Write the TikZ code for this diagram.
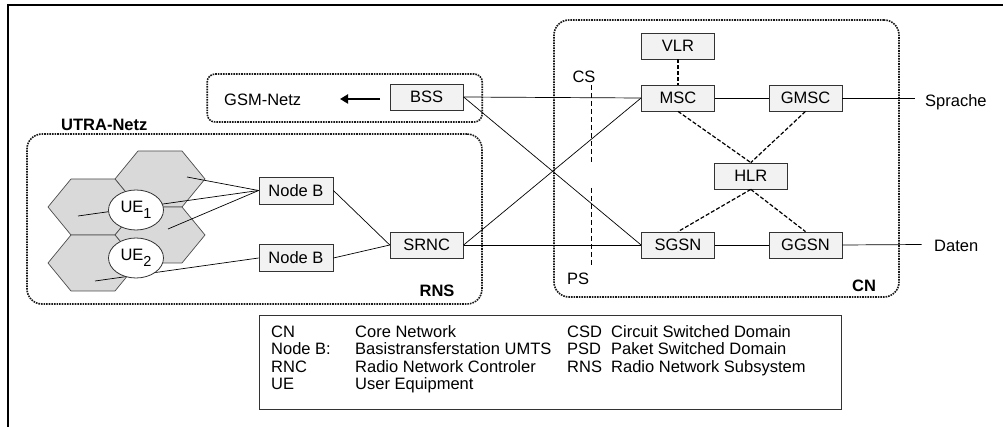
\documentclass[tikz,border=0pt]{standalone}
\usepackage{fontspec}
\setmainfont{Liberation Sans}
\usetikzlibrary{arrows.meta,shapes.geometric}

\begin{document}
\begin{tikzpicture}[x=1pt,y=-1pt,
  every node/.style={font=\fontsize{16.5}{19}\selectfont},
  box/.style={draw=black!80, fill=black!5, line width=0.8pt, minimum width=73pt, minimum height=26pt, inner sep=0pt},
  area/.style={draw=black!90, densely dotted, line width=1.6pt, rounded corners=15pt, inner sep=0pt},
  hex/.style={draw=black!70, fill=black!15, line width=0.7pt},
  link/.style={draw=black, line width=0.7pt},
  dlink/.style={draw=black, line width=1.2pt, dash pattern=on 4pt off 2pt},
  ue/.style={ellipse, draw=black!80, fill=white, line width=0.8pt, minimum width=55pt, minimum height=40pt, inner sep=0pt},
  lbl/.style={inner sep=0pt, anchor=base west},
  clbl/.style={inner sep=0pt, anchor=base},
  blbl/.style={inner sep=0pt, anchor=base, font=\fontsize{16.5}{19}\selectfont\bfseries},
]
\useasboundingbox (0,0) rectangle (1003,427);
\draw[line width=1.2pt] (8,427) -- (8,5) -- (1003,5);

% areas
\node[area, rounded corners=8pt, minimum width=275pt, minimum height=48pt] (gsmarea) at (344.7,98) {};
\node[area, minimum width=455pt, minimum height=170pt] (rnsarea) at (254.5,219) {};
\node[area, minimum width=345pt, minimum height=277pt] (cnarea) at (726.5,158.5) {};

% hexagons
\foreach \c in {(160,179),(93,207),(160,235),(93,263)}{
  \draw[hex] \c +(-45,0) -- +(-22,-28) -- +(22,-28) -- +(45,0) -- +(22,28) -- +(-22,28) -- cycle;
}

% boxes
\node[box] (BSS) at (426.7,97) {BSS};
\node[box] (VLR) at (678,46) {VLR};
\node[box] (MSC) at (678,98) {MSC};
\node[box] (GMSC) at (805.5,98) {GMSC};
\node[box] (HLR) at (750.8,176) {HLR};
\node[box] (SGSN) at (678,245) {SGSN};
\node[box] (GGSN) at (805.5,245) {GGSN};
\node[box, minimum width=74pt, minimum height=27pt] (NB1) at (296,190.5) {Node B};
\node[box, minimum width=74pt, minimum height=27pt] (NB2) at (296,258) {Node B};
\node[box] (SRNC) at (426.7,245) {SRNC};

% cell points
\coordinate (a1) at (187,177);
\coordinate (b1) at (78,216);
\coordinate (c1) at (168,229);
\coordinate (d1) at (95,281);
\draw[link] (a1) -- (NB1.west);
\draw[link] (b1) -- (NB1.west);
\draw[link] (c1) -- (NB1.west);
\draw[link] (d1) -- (NB2.west);

\node[ue] (UE1) at (136,210) {UE\raisebox{-6pt}{\fontsize{14.5}{15}\selectfont 1}};
\node[ue] (UE2) at (136,258) {UE\raisebox{-6pt}{\fontsize{14.5}{15}\selectfont 2}};

% links
\draw[link] (NB1.east) -- (SRNC.west);
\draw[link] (NB2.east) -- (SRNC.west);
\draw[link] (BSS.east) -- (MSC.west);
\draw[link] (BSS.east) -- (SGSN.west);
\draw[link] (SRNC.east) -- (MSC.west);
\draw[link] (SRNC.east) -- (SGSN.west);
\draw[link] (MSC.east) -- (GMSC.west);
\draw[link] (SGSN.east) -- (GGSN.west);
\coordinate (spend) at (915,98);
\coordinate (daend) at (921.5,244.5);
\draw[link] (GMSC.east) -- (spend);
\draw[link] (GGSN.east) -- (daend);

\draw[dlink] (VLR.south) -- (MSC.north);
\draw[dlink] (MSC.south) -- (HLR.north);
\draw[dlink] (GMSC.south) -- (HLR.north);
\draw[dlink] (HLR.south) -- (SGSN.north);
\draw[dlink] (HLR.south) -- (GGSN.north);

\coordinate (cs1) at (591.7,85);
\coordinate (cs2) at (591.7,163);
\coordinate (ps1) at (591.7,188);
\coordinate (ps2) at (591.7,267);
\draw[dlink, dash pattern=on 5pt off 3pt] (cs1) -- (cs2);
\draw[dlink, dash pattern=on 5pt off 3pt] (ps1) -- (ps2);

% arrow
\coordinate (arS) at (380,99);
\coordinate (arE) at (340,99);
\draw[line width=2.5pt, -{Triangle[length=8pt,width=9pt]}] (arS) -- (arE);

% labels
\node[lbl] (gsmtxt) at (224,105.5) {GSM-Netz};
\node[lbl, font=\fontsize{16.5}{19}\selectfont\bfseries] (utra) at (61,130.5) {UTRA-Netz};
\node[blbl] (rnstxt) at (437,296.5) {RNS};
\node[blbl] (cntxt) at (864,291.5) {CN};
\node[clbl] (cstxt) at (584,82.5) {CS};
\node[clbl] (pstxt) at (578,284.5) {PS};
\node[lbl] (sprache) at (925,107) {Sprache};
\node[lbl] (daten) at (934,251.7) {Daten};

% legend
\node[draw=black!80, line width=1pt, minimum width=582pt, minimum height=94pt, inner sep=0pt] (legend) at (550,362.5) {};
\node[lbl] (l11) at (271,337.5) {CN};
\node[lbl] (l21) at (271,354.8) {Node B:};
\node[lbl] (l31) at (271,372.1) {RNC};
\node[lbl] (l41) at (271,389.4) {UE};
\node[lbl] (l12) at (355,337.5) {Core Network};
\node[lbl] (l22) at (355,354.8) {Basistransferstation UMTS};
\node[lbl] (l32) at (355,372.1) {Radio Network Controler};
\node[lbl] (l42) at (355,389.4) {User Equipment};
\node[lbl] (l13) at (567,337.5) {CSD};
\node[lbl] (l23) at (567,354.8) {PSD};
\node[lbl] (l33) at (567,372.1) {RNS};
\node[lbl] (l14) at (611,337.5) {Circuit Switched Domain};
\node[lbl] (l24) at (611,354.8) {Paket Switched Domain};
\node[lbl] (l34) at (611,372.1) {Radio Network Subsystem};
\end{tikzpicture}
\end{document}
